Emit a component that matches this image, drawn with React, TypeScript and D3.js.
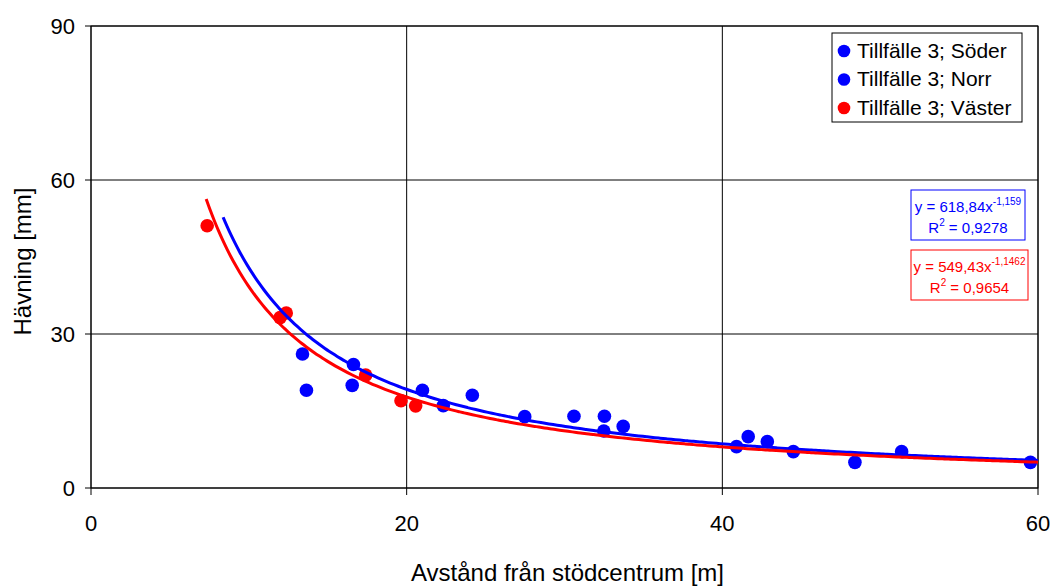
import React from "react";
import * as d3 from "d3";

// Measured heave (mm) against distance from the support centre (m)
const soderX = [13.4, 16.63, 21.0, 24.16, 30.6, 32.53, 41.64, 44.5, 51.36];
const soderY = [26.1, 24.05, 19.05, 18.07, 13.97, 13.97, 10.0, 7.08, 7.08];
const norrX = [13.65, 16.55, 22.32, 27.48, 32.49, 33.72, 40.9, 42.85, 48.4, 59.52];
const norrY = [19.05, 20.0, 16.05, 13.9, 11.1, 12.0, 8.06, 9.03, 5.0, 5.0];
const vasterX = [7.36, 11.98, 12.37, 17.4, 19.64, 20.57];
const vasterY = [51.1, 33.2, 34.1, 22.0, 17.0, 16.0];

// Power-law trendlines y = a * x^b
const blueFit = { a: 618.84, b: -1.159, r2: "0,9278", from: 8.37, to: 60 };
const redFit = { a: 549.43, b: -1.1462, r2: "0,9654", from: 7.3, to: 60 };

const xTicks = [0, 20, 40, 60];
const yTicks = [0, 30, 60, 90];
const legendLabels = ["Tillfälle 3; Söder", "Tillfälle 3; Norr", "Tillfälle 3; Väster"];

const W = 1053;
const H = 588;
const left = 91;
const right = 1038;
const top = 26;
const bottom = 488;
const FONT = "'Liberation Sans', Arial, sans-serif";
const BLUE = "#0000ff";
const RED = "#ff0000";

export default function App() {
  const x = d3.scaleLinear().domain([0, 60]).range([left, right]);
  const y = d3.scaleLinear().domain([0, 90]).range([bottom, top]);

  const fitPath = (f: typeof blueFit) => {
    const pts = d3.range(0, 201).map((i) => {
      const xv = f.from + ((f.to - f.from) * i) / 200;
      return [xv, f.a * Math.pow(xv, f.b)] as [number, number];
    });
    return d3
      .line<[number, number]>()
      .x((d) => x(d[0]))
      .y((d) => y(d[1]))
      .curve(d3.curveMonotoneX)(pts) as string;
  };

  const series = [
    { xs: soderX, ys: soderY, color: BLUE },
    { xs: norrX, ys: norrY, color: BLUE },
    { xs: vasterX, ys: vasterY, color: RED },
  ];
  const legendColors = [BLUE, BLUE, RED];

  const eqBox = (f: typeof blueFit, color: string, bx: number, by: number, bw: number) => (
    <g>
      <rect x={bx} y={by} width={bw} height={50} fill="#fff" stroke={color} strokeWidth={1} />
      <text x={bx + bw / 2} y={by + 22} textAnchor="middle" fontSize={15} fill={color} fontFamily={FONT}>
        {`y = ${String(f.a).replace(".", ",")}x`}
        <tspan fontSize={10} dy={-7}>{String(f.b).replace(".", ",")}</tspan>
      </text>
      <text x={bx + bw / 2} y={by + 43} textAnchor="middle" fontSize={15} fill={color} fontFamily={FONT}>
        R<tspan fontSize={10} dy={-7}>2</tspan>
        <tspan dy={7}>{` = ${f.r2}`}</tspan>
      </text>
    </g>
  );

  return (
    <svg width={W} height={H} style={{ position: "absolute", left: 0, top: 0, background: "#fff" }}>
      <rect x={0} y={0} width={W} height={H} fill="#fff" />
      {/* grid */}
      {yTicks.map((t) => (
        <line key={"gy" + t} x1={left - 6} x2={right} y1={y(t)} y2={y(t)} stroke="#000" strokeWidth={1} />
      ))}
      {xTicks.map((t) => (
        <line key={"gx" + t} x1={x(t)} x2={x(t)} y1={top} y2={bottom + 7} stroke="#000" strokeWidth={1} />
      ))}
      <rect x={left} y={top} width={right - left} height={bottom - top} fill="none" stroke="#000" strokeWidth={1} />

      {/* tick labels */}
      {yTicks.map((t) => (
        <text key={"ly" + t} x={left - 16} y={y(t) + 8} textAnchor="end" fontSize={22} fontFamily={FONT} fill="#000">
          {t}
        </text>
      ))}
      {xTicks.map((t) => (
        <text key={"lx" + t} x={x(t)} y={531} textAnchor="middle" fontSize={22} fontFamily={FONT} fill="#000">
          {t}
        </text>
      ))}

      {/* axis titles */}
      <text x={(left + right) / 2 + 3} y={581} textAnchor="middle" fontSize={24} fontFamily={FONT} fill="#000">
        Avstånd från stödcentrum [m]
      </text>
      <text
        transform={`translate(31,${261.5}) rotate(-90)`}
        textAnchor="middle"
        fontSize={24}
        fontFamily={FONT}
        fill="#000"
      >
        Hävning [mm]
      </text>

      {/* markers */}
      {series.map((s, si) =>
        s.xs.map((xv, i) => (
          <circle key={`m${si}-${i}`} cx={x(xv)} cy={y(s.ys[i])} r={6.8} fill={s.color} />
        ))
      )}

      {/* trendlines */}
      <path d={fitPath(blueFit)} fill="none" stroke={BLUE} strokeWidth={3} />
      <path d={fitPath(redFit)} fill="none" stroke={RED} strokeWidth={3} />

      {/* legend */}
      <rect x={832} y={33} width={190} height={89} fill="#fff" stroke="#000" strokeWidth={1} />
      {legendLabels.map((lab, i) => (
        <g key={lab}>
          <circle cx={844} cy={51 + i * 28.5} r={6.3} fill={legendColors[i]} />
          <text x={857} y={57.5 + i * 28.5} fontSize={21} fontFamily={FONT} fill="#000">
            {lab}
          </text>
        </g>
      ))}

      {/* trendline equations */}
      {eqBox(blueFit, BLUE, 911, 190, 114)}
      {eqBox(redFit, RED, 911, 250, 117)}
    </svg>
  );
}
